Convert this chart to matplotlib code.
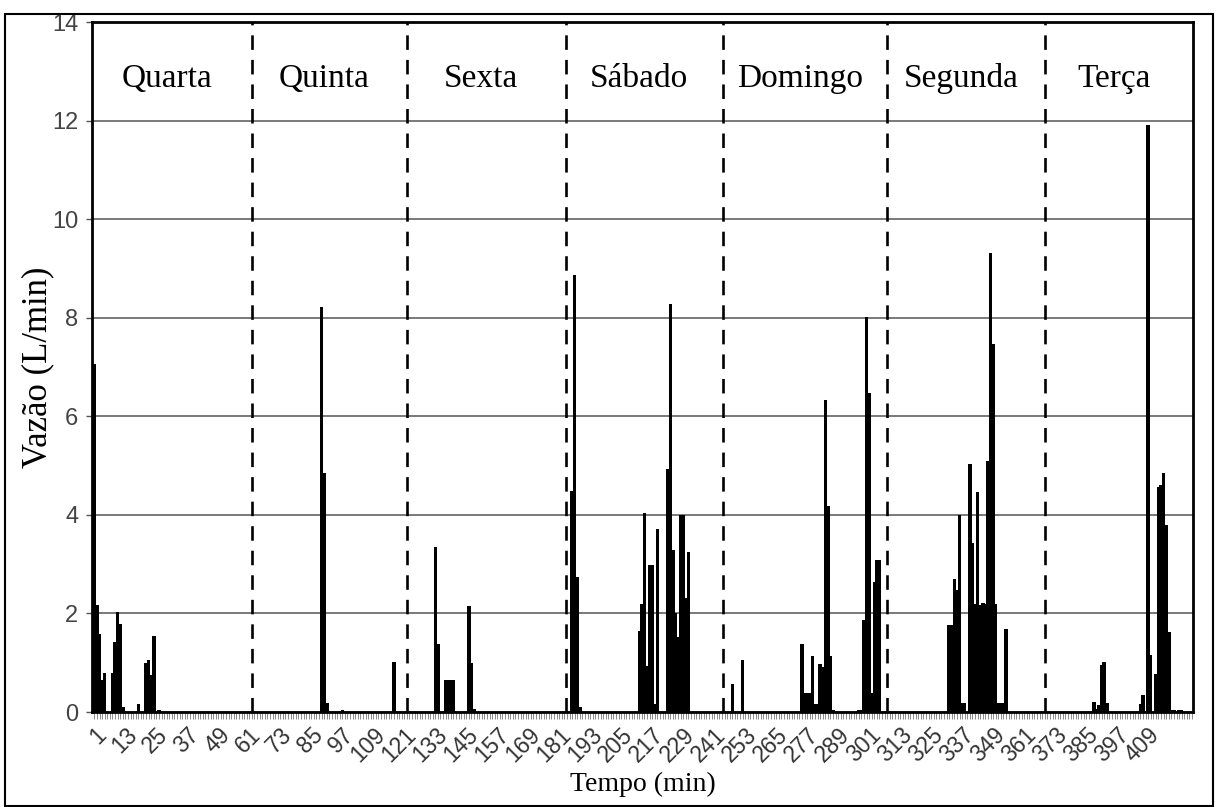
import matplotlib.pyplot as plt
import numpy as np
from matplotlib.patches import Rectangle

# minute index (1..426) and flow (L/min), only non-zero minutes listed per day
quarta_min = [1, 2, 3, 4, 5, 8, 9, 10, 11, 12, 18, 21, 22, 23, 24, 26]
quarta_val = [7.07, 2.17, 1.58, 0.65, 0.80, 0.80, 1.42, 2.03, 1.78, 0.10, 0.16, 1.0, 1.05, 0.75, 1.55, 0.05]

quinta_min = [89, 90, 91, 97, 117]
quinta_val = [8.21, 4.84, 0.18, 0.05, 1.02]

sexta_min = [133, 134, 137, 138, 139, 140, 146, 147, 148]
sexta_val = [3.35, 1.38, 0.65, 0.65, 0.65, 0.65, 2.15, 1.00, 0.06]

sabado_min = [186, 187, 188, 189, 212, 213, 214, 215, 216, 217, 218, 219,
              223, 224, 225, 226, 227, 228, 229, 230, 231]
sabado_val = [4.49, 8.87, 2.73, 0.10, 1.65, 2.19, 4.03, 0.94, 2.98, 2.98, 0.16, 3.71,
              4.94, 8.27, 3.29, 2.00, 1.53, 4.00, 4.00, 2.31, 3.25]

domingo_min = [248, 252, 275, 276, 277, 278, 279, 280, 281, 282, 283, 284, 285, 286, 287,
               297, 298, 299, 300, 301, 302, 303, 304, 305]
domingo_val = [0.57, 1.05, 1.38, 0.39, 0.39, 0.39, 1.14, 0.16, 0.16, 0.97, 0.92, 6.33, 4.19, 1.14, 0.05,
               0.04, 0.04, 1.87, 8.02, 6.47, 0.38, 2.64, 3.08, 3.08]

segunda_min = [332, 333, 334, 335, 336, 337, 338, 340, 341, 342, 343, 344, 345, 346, 347,
               348, 349, 350, 351, 352, 353, 354]
segunda_val = [1.76, 1.76, 2.69, 2.47, 4.00, 0.18, 0.18, 5.04, 3.42, 2.20, 4.46, 2.17, 2.22, 2.20, 5.09,
               9.31, 7.47, 2.19, 0.18, 0.18, 0.18, 1.68]

terca_min = [388, 389, 390, 391, 392, 393, 406, 407, 409, 410, 412, 413, 414, 415, 416, 417,
             418, 419, 421, 422]
terca_val = [0.20, 0.07, 0.15, 0.96, 1.02, 0.18, 0.17, 0.34, 11.91, 1.16, 0.78, 4.56, 4.60, 4.84, 3.79, 1.63,
             0.04, 0.04, 0.04, 0.04]

n_minutes = 426
day_names = ["Quarta", "Quinta", "Sexta", "Sábado", "Domingo", "Segunda", "Terça"]
day_edges = [62, 122, 183.5, 244.5, 308, 369]
tick_labels = list(range(1, 410, 12))

minutes = np.arange(1, n_minutes + 1)
flow = np.zeros(n_minutes)
for mins, vals in [(quarta_min, quarta_val), (quinta_min, quinta_val), (sexta_min, sexta_val),
                   (sabado_min, sabado_val), (domingo_min, domingo_val),
                   (segunda_min, segunda_val), (terca_min, terca_val)]:
    flow[np.array(mins) - 1] = vals

fig = plt.figure(figsize=(12.19, 8.07), dpi=100)
ax = fig.add_axes([0.0755, 0.1177, 0.9032, 0.855])

ax.set_axisbelow(True)
ax.yaxis.grid(True, color="#6e6e6e", lw=1.3)
ax.bar(minutes, flow, width=1.35, color="black", linewidth=0, zorder=3)

for e in day_edges:
    ax.axvline(e, color="black", lw=1.9, dashes=(5.5, 3.8), zorder=4)

edges = [0.5] + day_edges + [n_minutes + 0.5]
for i, name in enumerate(day_names):
    xc = (edges[i] + edges[i + 1]) / 2 - 2
    ax.text(xc, 12.85, name, ha="center", va="center", fontsize=24,
            family="Liberation Serif")

ax.set_xlim(0.1, n_minutes + 0.4)
ax.set_ylim(0, 14)
ax.set_yticks(range(0, 15, 2))
ax.set_yticklabels([str(v) for v in range(0, 15, 2)], fontsize=17,
                   family="Liberation Sans", color="#444444")
ax.set_xticks(tick_labels)
ax.set_xticklabels([str(t) for t in tick_labels], rotation=45, ha="right",
                   rotation_mode="anchor", fontsize=16.5, family="Liberation Sans",
                   color="#333333")
ax.set_xticks(minutes, minor=True)
ax.tick_params(axis="x", which="both", length=5, width=0.6, color="#777777", pad=3)
ax.tick_params(axis="y", length=4, width=1, color="#555555", pad=6)

for s in ax.spines.values():
    s.set_linewidth(2)
    s.set_color("black")

ax.set_ylabel("Vazão (L/min)", fontsize=25, family="Liberation Serif", labelpad=-2)
ax.set_xlabel("Tempo (min)", fontsize=20, family="Liberation Serif", labelpad=4)

fig.patches.append(Rectangle((0.004, 0.001), 0.991, 0.982, transform=fig.transFigure,
                             fill=False, lw=1.5, ec="black"))

fig.savefig("out.png", dpi=100)
